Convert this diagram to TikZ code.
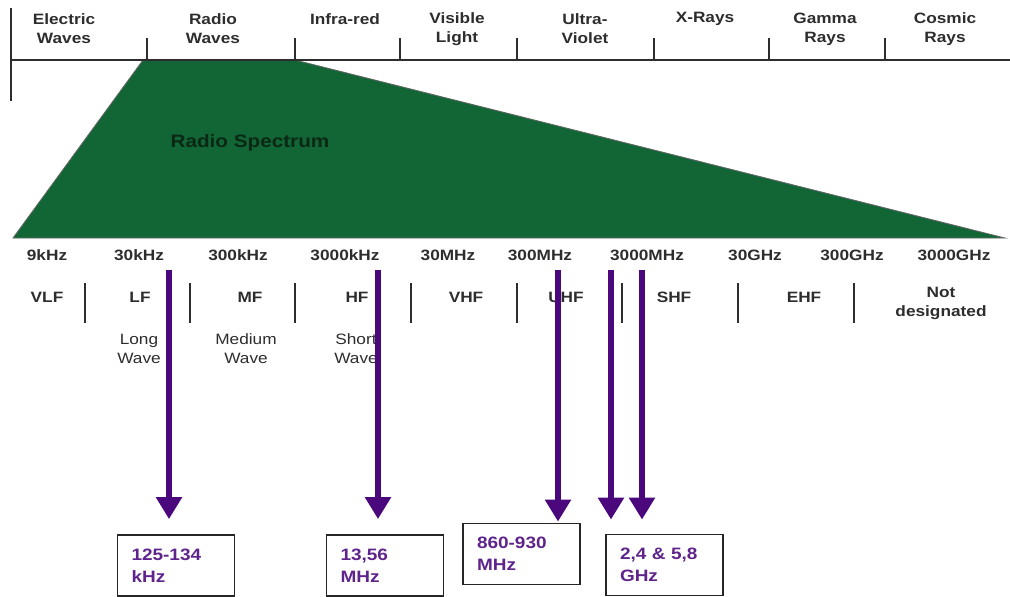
\documentclass[tikz,border=0pt]{standalone}
\usepackage{fontspec}
\setmainfont{Liberation Sans}[FakeStretch=1.15]
\usetikzlibrary{arrows.meta}
\definecolor{specgreen}{RGB}{18,102,54}
\definecolor{arrowpurple}{RGB}{75,8,125}
\definecolor{boxpurple}{RGB}{95,35,140}
\definecolor{txt}{RGB}{45,45,45}
\definecolor{darkgreentxt}{RGB}{10,40,20}
\begin{document}
\begin{tikzpicture}[x=1pt,y=-1pt,
 lbl/.style={font=\fontsize{15}{19}\selectfont\bfseries, text=txt, align=center, inner sep=0pt},
 sublbl/.style={font=\fontsize{15}{19}\selectfont, text=txt, align=center, inner sep=0pt},
 rule/.style={draw=txt, line width=2pt},
 sep/.style={draw=txt, line width=2pt},
 fbox/.style={draw=black!85, line width=1.8pt, font=\fontsize{16.5}{22}\selectfont\bfseries, text=boxpurple, align=left, inner xsep=14pt, inner ysep=0pt, minimum height=61pt, text width=89pt},
 parrow/.style={draw=arrowpurple, line width=6pt, -{Triangle[length=22pt,width=25pt]}}
]
\useasboundingbox (0,0) rectangle (1010,597);
% green spectrum wedge
\fill[specgreen, draw=black!60, line width=0.8pt] (143,60) -- (295,60) -- (1005,238) -- (13,238) -- cycle;
\node[font=\fontsize{18}{22}\selectfont\bfseries, text=darkgreentxt, inner sep=0pt] (rs) at (250,143) {Radio Spectrum};
% top scale
\draw[rule] (11,60) -- (1010,60);
\draw[rule] (11,8) -- (11,101);
\foreach \x in {147,295,400,517,654,769,885} \draw[rule] (\x,38) -- (\x,61);
\node[lbl] (ew) at (64,29) {Electric\\Waves};
\node[lbl] (rw) at (213,29) {Radio\\Waves};
\node[lbl] (ir) at (345,19) {Infra-red};
\node[lbl] (vl) at (457,29) {Visible\\Light};
\node[lbl] (uv) at (585,29) {Ultra-\\Violet};
\node[lbl] (xr) at (705,19) {X-Rays};
\node[lbl] (gr) at (825,29) {Gamma\\Rays};
\node[lbl] (cr) at (945,29) {Cosmic\\Rays};
% frequencies
\node[lbl] (f1) at (47,255) {9kHz};
\node[lbl] (f2) at (139,255) {30kHz};
\node[lbl] (f3) at (238,255) {300kHz};
\node[lbl] (f4) at (345,255) {3000kHz};
\node[lbl] (f5) at (448,255) {30MHz};
\node[lbl] (f6) at (540,255) {300MHz};
\node[lbl] (f7) at (647,255) {3000MHz};
\node[lbl] (f8) at (755,255) {30GHz};
\node[lbl] (f9) at (852,255) {300GHz};
\node[lbl] (f10) at (954,255) {3000GHz};
% bands
\node[lbl] (b1) at (47,297) {VLF};
\node[lbl] (b2) at (140,297) {LF};
\node[lbl] (b3) at (250,297) {MF};
\node[lbl] (b4) at (357,297) {HF};
\node[lbl] (b5) at (466,297) {VHF};
\node[lbl] (b6) at (566,297) {UHF};
\node[lbl] (b7) at (674,297) {SHF};
\node[lbl] (b8) at (804,297) {EHF};
\node[lbl] (b9) at (941,303) {Not\\designated};
\foreach \x in {85,190,295,411,517,622,738,854} \draw[sep] (\x,283) -- (\x,323);
\node[sublbl] (lw) at (139,349) {Long\\Wave};
\node[sublbl] (mw) at (246,349) {Medium\\Wave};
\node[sublbl] (sw) at (356,349) {Short\\Wave};
% boxes
\node[fbox] (k1) at (176,565.5) {125-134\\kHz};
\node[fbox] (k2) at (385,565.5) {13,56\\MHz};
\node[fbox] (k3) at (521.5,554) {860-930\\MHz};
\node[fbox] (k4) at (664.5,565) {2,4 \& 5,8\\GHz};
% arrows
\coordinate (a1) at (169,270);
\coordinate (a2) at (378,270);
\coordinate (a3) at (558,270);
\coordinate (a4) at (611,270);
\coordinate (a5) at (642,270);
\draw[parrow] (a1) -- ([yshift=15pt]a1 |- k1.north);
\draw[parrow] (a2) -- ([yshift=15pt]a2 |- k2.north);
\draw[parrow] (a3) -- ([yshift=1pt]a3 |- k3.north);
\draw[parrow] (a4) -- ([yshift=14pt]a4 |- k4.north);
\draw[parrow] (a5) -- ([yshift=14pt]a5 |- k4.north);
\end{tikzpicture}
\end{document}
